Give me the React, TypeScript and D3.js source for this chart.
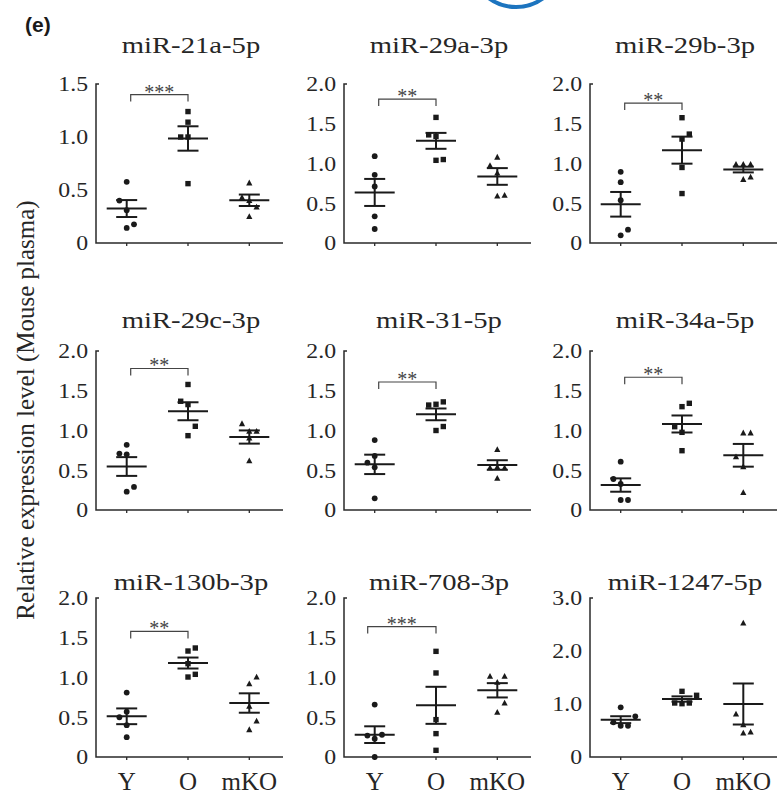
import React from 'react';
import * as d3 from 'd3';

// groups on the x axis
const groups = ['Y', 'O', 'mKO'];

const titles = [
  'miR-21a-5p', 'miR-29a-3p', 'miR-29b-3p',
  'miR-29c-3p', 'miR-31-5p', 'miR-34a-5p',
  'miR-130b-3p', 'miR-708-3p', 'miR-1247-5p',
];

const yMax = [1.5, 2, 2, 2, 2, 2, 2, 2, 3];
const ticksHalf = [0, 0.5, 1, 1.5, 2];
const ticksWhole = [0, 1, 2, 3];

const stars = ['***', '**', '**', '**', '**', '**', '**', '***', ''];
const bracketLevel = [1.40, 1.81, 1.76, 1.78, 1.61, 1.67, 1.58, 1.64, 0];

// individual animals, per panel: [Y, O, mKO]
const values = [
  [[0.577, 0.40, 0.309, 0.176, 0.142], [1.24, 1.14, 1.0, 1.0, 0.56], [0.567, 0.43, 0.40, 0.34, 0.25]],
  [[1.092, 0.858, 0.711, 0.335, 0.176], [1.58, 1.36, 1.34, 1.04, 1.05], [1.08, 0.975, 0.88, 0.59, 0.60]],
  [[0.895, 0.765, 0.538, 0.168, 0.097], [1.576, 1.37, 1.307, 0.95, 0.622], [0.99, 0.99, 0.99, 0.83, 0.80]],
  [[0.82, 0.71, 0.70, 0.29, 0.23], [1.579, 1.368, 1.326, 1.053, 0.935], [1.086, 0.99, 0.99, 0.905, 0.619]],
  [[0.88, 0.68, 0.595, 0.537, 0.147], [1.36, 1.33, 1.32, 1.05, 1.0], [0.76, 0.53, 0.54, 0.53, 0.40]],
  [[0.608, 0.39, 0.327, 0.126, 0.126], [1.342, 1.30, 1.048, 0.977, 0.746], [0.97, 0.97, 0.67, 0.545, 0.22]],
  [[0.81, 0.57, 0.50, 0.40, 0.25], [1.371, 1.333, 1.174, 1.04, 1.006], [1.006, 0.922, 0.637, 0.453, 0.344]],
  [[0.66, 0.28, 0.27, 0.23, 0], [1.329, 1.057, 0.47, 0.294, 0.084], [1.015, 1.015, 0.94, 0.679, 0.562]],
  [[0.937, 0.767, 0.654, 0.59, 0.59], [1.239, 1.164, 1.019, 1.006, 1.019], [2.528, 0.811, 0.61, 0.472, 0.453]],
];

// side-by-side slot of each dot (how the scatter spreads overlapping dots)
const slots = [
  [[0, -1, 0, 1, 0], [0, 0, -1, 0, 0], [0, -1, 0, 1, 0]],
  [[0, 0, 0, 0, 0], [0, -1, 0, 0, 1], [0, -1, 0, 0, 1]],
  [[0, 0, 0, 1, 0], [0, 1, 0, 0, 0], [-1, 0, 1, 1, 0]],
  [[0, -1, 0, 1, 0], [0, -1, 0, 1, 0], [-1, 0, 1, 0, 0]],
  [[0, 0, -1, 0, 0], [1, 0, -1, 1, 0], [0, -1, 0, 1, 0]],
  [[0, -1, 0, 0, 1], [1, 0, -1, 0, 0], [0, 1, -1, 0, 0]],
  [[0, 0, -1, 0, 0], [1, 0, 0, 1, 0], [1, 0, 0, 1, 0]],
  [[0, 1, -1, 0, 0], [0, 0, 0, 0, 0], [-1, 1, 0, 1, 0]],
  [[0, 2, -1, 0, 1], [0, 2, -1, 0, 1], [0, -1, 0, 1, 0]],
];

const means = [
  [0.325, 0.986, 0.403], [0.636, 1.285, 0.837], [0.487, 1.168, 0.924],
  [0.547, 1.242, 0.918], [0.574, 1.203, 0.566], [0.314, 1.082, 0.688],
  [0.512, 1.182, 0.679], [0.281, 0.65, 0.839], [0.704, 1.094, 1.0],
];
const sems = [
  [0.08, 0.115, 0.054], [0.17, 0.10, 0.105], [0.155, 0.17, 0.036],
  [0.118, 0.113, 0.083], [0.122, 0.074, 0.06], [0.084, 0.107, 0.143],
  [0.099, 0.069, 0.122], [0.105, 0.233, 0.09], [0.065, 0.05, 0.387],
];

const serif = 'Liberation Serif, Times New Roman, serif';
const ink = '#1a1a1a';
const textInk = '#262626';

const colX = [96, 344, 590];
const rowTop = [84, 351, 598];
const rowTitle = [53, 328, 590];
const plotH = 159;

function Marker({ g, x, y }: { g: number; x: number; y: number }) {
  if (g === 0) return <circle cx={x} cy={y} r={2.9} fill={ink} />;
  if (g === 1) return <rect x={x - 2.7} y={y - 2.7} width={5.4} height={5.4} fill={ink} />;
  return <path d={`M${x},${y - 3.3}L${x + 3.1},${y + 2.5}L${x - 3.1},${y + 2.5}Z`} fill={ink} />;
}

function Panel({ i }: { i: number }) {
  const ax = colX[i % 3];
  const top = rowTop[Math.floor(i / 3)];
  const base = top + plotH;
  const y = d3.scaleLinear().domain([0, yMax[i]]).range([base, top]);
  const x = d3.scalePoint().domain(groups).range([ax + 30.7, ax + 153.3]);
  const ticks = yMax[i] === 3 ? ticksWhole : ticksHalf.filter((t) => t <= yMax[i]);
  const fmt = (t: number) => (t === 0 ? '0' : d3.format('.1f')(t));
  const slotW = 7.3;
  const bStart = i === 7 ? -7 : 4;

  return (
    <g>
      <text
        transform={`translate(${ax + 95},${rowTitle[Math.floor(i / 3)]}) scale(1.22,1)`}
        textAnchor="middle" style={{ fontFamily: serif }} fontSize={23.5} fill={textInk}
      >{titles[i]}</text>
      {/* axes */}
      <path d={`M${ax + 3},${top}H${ax}V${base}H${ax + 187}`} fill="none" stroke="#2a2a2a" strokeWidth={1.5} />
      {groups.map((gname) => (
        <line key={gname} x1={x(gname)} x2={x(gname)} y1={base} y2={base + 3} stroke="#2a2a2a" strokeWidth={1.3} />
      ))}
      {ticks.map((t) => (
        <text
          key={t}
          transform={`translate(${ax - 8},${y(t)}) scale(1.08,1)`}
          textAnchor="end" dy="0.34em" style={{ fontFamily: serif }} fontSize={22} fill={textInk}
        >{fmt(t)}</text>
      ))}
      {/* dots */}
      {values[i].map((vals, g) =>
        vals.map((v, k) => (
          <Marker key={`${g}-${k}`} g={g} x={(x(groups[g]) as number) + slots[i][g][k] * slotW} y={y(v)} />
        ))
      )}
      {/* mean and SEM */}
      {means[i].map((m, g) => {
        const cx = x(groups[g]) as number;
        const s = sems[i][g];
        return (
          <g key={g} stroke={ink} strokeWidth={2}>
            <line x1={cx - 20} x2={cx + 20} y1={y(m)} y2={y(m)} />
            <line x1={cx - 10.5} x2={cx + 10.5} y1={y(m + s)} y2={y(m + s)} />
            <line x1={cx - 10.5} x2={cx + 10.5} y1={y(m - s)} y2={y(m - s)} />
            <line x1={cx} x2={cx} y1={y(m + s)} y2={y(m - s)} />
          </g>
        );
      })}
      {/* significance bracket */}
      {stars[i] && (
        <g>
          <path
            d={`M${(x('Y') as number) + bStart},${y(bracketLevel[i]) + 7}V${y(bracketLevel[i])}H${x('O')}V${y(bracketLevel[i]) + 7}`}
            fill="none" stroke="#444" strokeWidth={1.2}
          />
          <text
            x={((x('Y') as number) + bStart + (x('O') as number)) / 2}
            y={y(bracketLevel[i]) + 4}
            textAnchor="middle" style={{ fontFamily: serif }} fontSize={20} fill="#444"
          >{stars[i]}</text>
        </g>
      )}
      {/* group labels on the bottom row */}
      {i >= 6 && groups.map((gname) => (
        <text key={gname} x={x(gname)} y={790} textAnchor="middle" style={{ fontFamily: serif }} fontSize={25} fill={textInk}>{gname}</text>
      ))}
    </g>
  );
}

export default function App() {
  return (
    <svg width={779} height={805} style={{ position: 'absolute', left: 0, top: 0, background: '#fff' }}>
      <circle cx={516} cy={-39} r={46} fill="none" stroke="#1c74bf" strokeWidth={4} />
      <text x={25} y={32} style={{ fontFamily: 'Liberation Sans, Arial, sans-serif' }} fontWeight="bold" fontSize={21} fill={ink}>(e)</text>
      <text
        transform="translate(33.5,410) rotate(-90)"
        textAnchor="middle" style={{ fontFamily: serif }} fontSize={25} fill={textInk}
      >Relative expression level (Mouse plasma)</text>
      {d3.range(9).map((i) => <Panel key={i} i={i} />)}
    </svg>
  );
}
